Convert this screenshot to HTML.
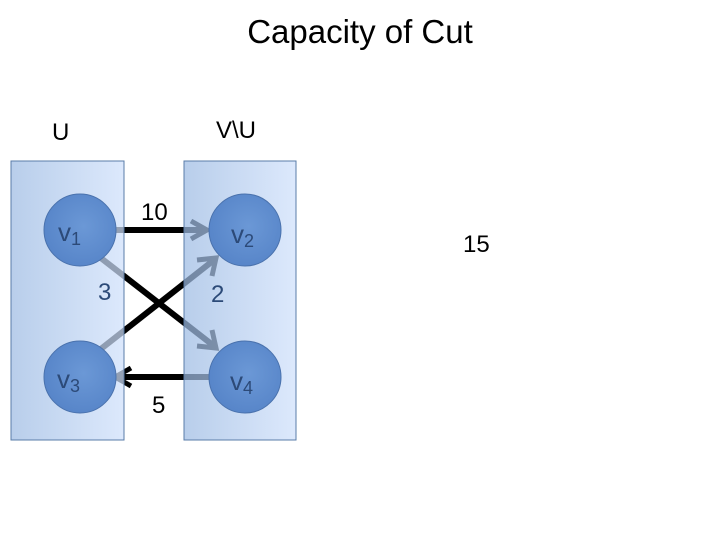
<!DOCTYPE html>
<html><head><style>
body{margin:0;background:#fff;width:720px;height:540px;overflow:hidden}
svg{display:block}
</style></head><body>
<svg width="720" height="540" xmlns="http://www.w3.org/2000/svg">
<defs>
<linearGradient id="g" x1="0" x2="1" y1="0" y2="0">
<stop offset="0" stop-color="#9dbbe3"/><stop offset="1" stop-color="#cfe0fb"/>
</linearGradient>
<radialGradient id="c" cx="0.55" cy="0.45" r="0.6">
<stop offset="0" stop-color="#6b98d6"/><stop offset="1" stop-color="#5684c8"/>
</radialGradient>
</defs>
<text x="360" y="43" font-family="Liberation Sans, sans-serif" font-size="33" text-anchor="middle" fill="#000">Capacity of Cut</text>
<text x="52" y="140" font-family="Liberation Sans, sans-serif" font-size="24" fill="#000">U</text>
<text x="216" y="138" font-family="Liberation Sans, sans-serif" font-size="24" fill="#000">V\U</text>
<text x="463" y="252" font-family="Liberation Sans, sans-serif" font-size="24" fill="#000">15</text>
<g stroke="#000" stroke-width="6" fill="none" stroke-linecap="butt">
<line x1="108" y1="230" x2="205" y2="230"/>
<polyline points="191,221 207,230 191,239" stroke-width="5"/>
<line x1="97" y1="255" x2="214" y2="346"/>
<polyline points="197,346 216,348 212,330" stroke-width="5"/>
<line x1="97" y1="352" x2="214" y2="260"/>
<polyline points="197,260 216,258 212,276" stroke-width="5"/>
<line x1="210" y1="377" x2="118" y2="377"/>
<polyline points="131,368 115,377 131,386" stroke-width="5"/>
</g>
<rect x="11" y="161" width="113" height="279" fill="url(#g)" fill-opacity="0.72" stroke="#5a7ca8" stroke-width="1"/>
<rect x="184" y="161" width="112" height="279" fill="url(#g)" fill-opacity="0.72" stroke="#5a7ca8" stroke-width="1"/>
<g fill="url(#c)" stroke="#4a72ad" stroke-width="1">
<circle cx="80" cy="230" r="36"/><circle cx="245" cy="230" r="36"/>
<circle cx="80" cy="377" r="36"/><circle cx="245" cy="377" r="36"/>
</g>
<g font-family="Liberation Sans, sans-serif" fill="#2c4a78">
<text x="58" y="241" font-size="26">v<tspan font-size="18" dy="4">1</tspan></text>
<text x="231" y="243" font-size="26">v<tspan font-size="18" dy="4">2</tspan></text>
<text x="57" y="388" font-size="26">v<tspan font-size="18" dy="4">3</tspan></text>
<text x="230" y="390" font-size="26">v<tspan font-size="18" dy="4">4</tspan></text>
<text x="98" y="300" font-size="24">3</text>
<text x="211" y="302" font-size="24">2</text>
</g>
<g font-family="Liberation Sans, sans-serif" fill="#000" font-size="24">
<text x="141" y="220">10</text>
<text x="152" y="413">5</text>
</g>
</svg>
</body></html>
